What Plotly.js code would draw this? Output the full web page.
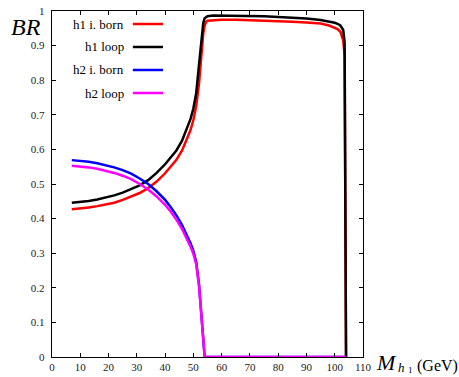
<!DOCTYPE html>
<html>
<head>
<meta charset="utf-8">
<script src="https://cdn.plot.ly/plotly-3.0.1.min.js"></script>
<style>html,body{margin:0;padding:0;background:#fff;}#chart{width:459px;height:377px;}</style>
</head>
<body>
<div id="chart"></div>
<script>
// Higgs mass M_h1 (GeV)
const massH1 = [7, 10, 13, 16, 19, 22, 25, 28, 31, 34, 37, 40, 42, 44, 46, 48, 49, 50, 51, 52, 53, 53.5, 54, 54.5, 55, 57, 60, 65, 70, 75, 80, 85, 90, 95, 98, 100, 101, 102, 103, 103.5, 104];
const h1Born = [0.427, 0.429, 0.432, 0.436, 0.440, 0.446, 0.454, 0.463, 0.474, 0.488, 0.507, 0.531, 0.549, 0.570, 0.597, 0.633, 0.656, 0.685, 0.725, 0.790, 0.890, 0.935, 0.958, 0.968, 0.972, 0.974, 0.975, 0.975, 0.974, 0.973, 0.971, 0.969, 0.967, 0.964, 0.958, 0.952, 0.948, 0.940, 0.915, 0.870, 0];
const h1Loop = [0.446, 0.448, 0.451, 0.455, 0.460, 0.467, 0.475, 0.485, 0.496, 0.511, 0.532, 0.557, 0.576, 0.597, 0.625, 0.664, 0.688, 0.718, 0.762, 0.845, 0.930, 0.965, 0.979, 0.983, 0.985, 0.987, 0.987, 0.987, 0.986, 0.985, 0.983, 0.981, 0.978, 0.974, 0.970, 0.966, 0.963, 0.958, 0.945, 0.910, 0];

const massH2 = [7, 10, 13, 16, 19, 22, 25, 28, 31, 34, 37, 40, 42, 44, 46, 48, 49, 50, 51, 52, 53, 54, 60, 70, 80, 90, 100, 104];
const h2Born = [0.569, 0.567, 0.564, 0.560, 0.555, 0.548, 0.540, 0.530, 0.516, 0.500, 0.479, 0.454, 0.433, 0.409, 0.381, 0.348, 0.329, 0.307, 0.275, 0.210, 0.105, 0, 0, 0, 0, 0, 0, 0];
const h2Loop = [0.553, 0.551, 0.548, 0.544, 0.539, 0.532, 0.524, 0.514, 0.500, 0.484, 0.464, 0.440, 0.420, 0.397, 0.370, 0.338, 0.319, 0.298, 0.268, 0.205, 0.100, 0, 0, 0, 0, 0, 0, 0];

const seriesNames = ["h1 i. born", "h1 loop", "h2 i. born", "h2 loop"];
const seriesColors = ["#ff0000", "#000000", "#0000ff", "#ff00ff"];
const xTicks = [0, 10, 20, 30, 40, 50, 60, 70, 80, 90, 100, 110];
const yTicks = [0, 0.1, 0.2, 0.3, 0.4, 0.5, 0.6, 0.7, 0.8, 0.9, 1];
const yTickText = ["0", "0.1", "0.2", "0.3", "0.4", "0.5", "0.6", "0.7", "0.8", "0.9", "1"];

const xs = [massH1, massH1, massH2, massH2];
const ys = [h1Born, h1Loop, h2Born, h2Loop];

const serif = "Liberation Serif, DejaVu Serif, serif";

const traces = seriesNames.map((n, i) => ({
  x: xs[i], y: ys[i], name: n, type: "scatter", mode: "lines",
  line: {color: seriesColors[i], width: 2.5},
  showlegend: false
}));

// legend drawn gnuplot-style: text on the left, line sample on the right
const legendRowsY = [0.9624, 0.896, 0.8295, 0.763];
const annotations = seriesNames.map((n, i) => ({
  text: n, xref: "paper", yref: "paper", x: 0.238, y: legendRowsY[i],
  xanchor: "right", yanchor: "middle", showarrow: false,
  font: {family: serif, size: 13, color: "#000"}
}));
const shapes = seriesColors.map((c, i) => ({
  type: "line", xref: "paper", yref: "paper",
  x0: 0.260, x1: 0.357, y0: legendRowsY[i], y1: legendRowsY[i],
  line: {color: c, width: 2.5}
}));

annotations.push({
  text: "<i>BR</i>", xref: "paper", yref: "paper", x: -0.083, y: 0.955,
  xanchor: "center", yanchor: "middle", showarrow: false,
  font: {family: serif, size: 24, color: "#000"}
});
// x-axis label M_{h_1}(GeV), built from pieces
annotations.push({
  text: "<i>M</i>", xref: "paper", yref: "paper", x: 1.0354, y: -0.0578,
  xanchor: "left", yanchor: "bottom", showarrow: false,
  font: {family: serif, size: 22, color: "#000"}
});
annotations.push({
  text: "<i>h</i>", xref: "paper", yref: "paper", x: 1.106, y: -0.0578,
  xanchor: "left", yanchor: "bottom", showarrow: false,
  font: {family: serif, size: 13, color: "#000"}
});
annotations.push({
  text: "1", xref: "paper", yref: "paper", x: 1.137, y: -0.0578,
  xanchor: "left", yanchor: "bottom", showarrow: false,
  font: {family: serif, size: 9, color: "#000"}
});
annotations.push({
  text: "(GeV)", xref: "paper", yref: "paper", x: 1.1656, y: -0.0578,
  xanchor: "left", yanchor: "bottom", showarrow: false,
  font: {family: serif, size: 16, color: "#000"}
});

const layout = {
  width: 459, height: 377,
  margin: {l: 52, r: 96, t: 11, b: 20, pad: 0},
  paper_bgcolor: "#fff", plot_bgcolor: "#fff",
  showlegend: false,
  xaxis: {
    range: [0, 110], tickmode: "array", tickvals: xTicks, ticktext: xTicks.map(String),
    ticks: "inside", ticklen: 4, tickcolor: "#000", tickwidth: 1,
    showline: true, linecolor: "#000", linewidth: 1.2, mirror: "ticks",
    showgrid: false, zeroline: false,
    tickfont: {family: serif, size: 11, color: "#222"}
  },
  yaxis: {
    range: [0, 1], tickmode: "array", tickvals: yTicks, ticktext: yTickText,
    ticks: "inside", ticklen: 4, tickcolor: "#000", tickwidth: 1,
    showline: true, linecolor: "#000", linewidth: 1.2, mirror: "ticks",
    showgrid: false, zeroline: false, ticklabelstandoff: 4,
    tickfont: {family: serif, size: 11, color: "#222"}
  },
  annotations: annotations,
  shapes: shapes
};

Plotly.newPlot("chart", traces, layout, {staticPlot: true, displayModeBar: false});
</script>
</body>
</html>
